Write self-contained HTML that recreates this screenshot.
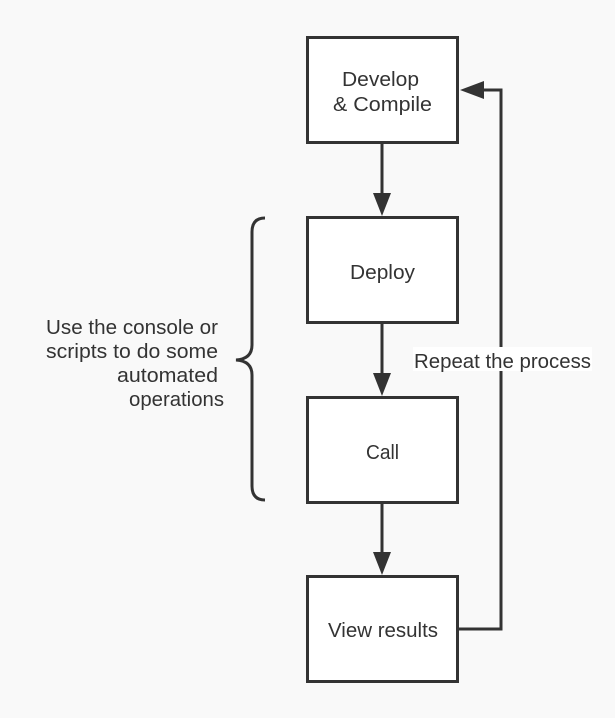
<!DOCTYPE html>
<html><head><style>
html,body{margin:0;padding:0;background:#f9f9f9;}
svg{display:block;}
text{font-family:"Liberation Sans",sans-serif;font-size:20px;fill:#333;}
</style></head><body>
<svg width="615" height="718" viewBox="0 0 615 718" xmlns="http://www.w3.org/2000/svg">
<rect width="615" height="718" fill="#f9f9f9"/>
<g fill="#fff" stroke="#333" stroke-width="3">
<rect x="307.5" y="37.5" width="150" height="105"/>
<rect x="307.5" y="217.5" width="150" height="105"/>
<rect x="307.5" y="397.5" width="150" height="105"/>
<rect x="307.5" y="576.5" width="150" height="105"/>
</g>
<g stroke="#333" stroke-width="3" fill="none">
<line x1="382" y1="143" x2="382" y2="195"/>
<line x1="382" y1="323" x2="382" y2="375"/>
<line x1="382" y1="503" x2="382" y2="554"/>
<polyline points="458,629 501,629 501,90 482,90"/>
<path d="M265,218 Q252,218 252,232 L252,345 Q252,359 236,360 Q252,361 252,375 L252,486 Q252,500 265,500"/>
</g>
<g fill="#333">
<polygon points="373,193 391,193 382,216"/>
<polygon points="373,373 391,373 382,396"/>
<polygon points="373,552 391,552 382,575"/>
<polygon points="484,81 484,99 460,90"/>
</g>
<rect x="413" y="347" width="179" height="24" fill="#fff"/>
<text x="414" y="368" textLength="177" lengthAdjust="spacingAndGlyphs">Repeat the process</text>
<text x="342" y="86" textLength="77" lengthAdjust="spacingAndGlyphs">Develop</text>
<text x="333" y="111" textLength="99" lengthAdjust="spacingAndGlyphs">&amp; Compile</text>
<text x="350" y="279" textLength="65" lengthAdjust="spacingAndGlyphs">Deploy</text>
<text x="366" y="459" textLength="33" lengthAdjust="spacingAndGlyphs">Call</text>
<text x="328" y="637" textLength="110" lengthAdjust="spacingAndGlyphs">View results</text>
<text x="46" y="334" textLength="172" lengthAdjust="spacingAndGlyphs">Use the console or</text>
<text x="46" y="358" textLength="172" lengthAdjust="spacingAndGlyphs">scripts to do some</text>
<text x="117" y="382" textLength="101" lengthAdjust="spacingAndGlyphs">automated</text>
<text x="129" y="406" textLength="95" lengthAdjust="spacingAndGlyphs">operations</text>
</svg>
</body></html>
